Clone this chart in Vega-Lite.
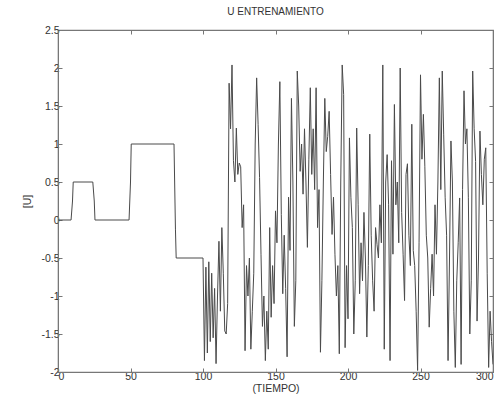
{
  "$schema": "https://vega.github.io/schema/vega-lite/v6.json",
  "width": 435,
  "height": 342,
  "autosize": {"type": "none"},
  "padding": {"left": 58, "top": 30, "right": 10, "bottom": 42},
  "background": "white",
  "title": {"text": "U ENTRENAMIENTO", "fontSize": 10, "font": "Liberation Sans", "fontWeight": "normal", "color": "#333", "offset": 8},
  "config": {
    "view": {"stroke": "#777", "strokeWidth": 1.2},
    "axis": {"grid": false, "labelFont": "Liberation Sans", "titleFont": "Liberation Sans", "labelFontSize": 10.5, "titleFontSize": 10.5, "titleFontWeight": "normal", "labelColor": "#333", "titleColor": "#333", "domainColor": "#777", "tickColor": "#777", "tickSize": -4}
  },
  "data": {"values": [
    {"t":0,"u":0},{"t":9,"u":0},{"t":10,"u":0.25},{"t":10.5,"u":0.5},{"t":24,"u":0.5},{"t":25,"u":0.25},{"t":25.5,"u":0},{"t":49,"u":0},{"t":50,"u":0.5},{"t":50.5,"u":1},{"t":80,"u":1},{"t":81,"u":-0.12},{"t":81.5,"u":-0.5},{"t":100,"u":-0.5},
    {"t":101,"u":-1.85},{"t":102,"u":-0.62},{"t":103,"u":-1.75},{"t":104,"u":-0.55},{"t":105,"u":-1.6},{"t":106,"u":-0.7},{"t":107,"u":-1.55},{"t":108,"u":-0.9},{"t":109,"u":-1.89},{"t":110,"u":-1.0},
    {"t":111,"u":-0.28},{"t":112,"u":-1.2},{"t":113,"u":-0.1},{"t":114,"u":-0.7},{"t":115,"u":-1.46},{"t":116,"u":-1.5},{"t":117,"u":-1.1},{"t":118,"u":1.8},{"t":119,"u":1.2},{"t":120,"u":2.04},
    {"t":121,"u":0.78},{"t":122,"u":0.5},{"t":123,"u":1.21},{"t":124,"u":0.6},{"t":125,"u":0.75},{"t":126,"u":0.7},{"t":127,"u":-0.1},{"t":128,"u":0.2},{"t":129,"u":-1.72},{"t":130,"u":-0.6},
    {"t":131,"u":-1.0},{"t":132,"u":-0.5},{"t":133,"u":-1.7},{"t":134,"u":-1.2},{"t":135,"u":-0.7},{"t":136,"u":1.0},{"t":137,"u":1.87},{"t":138,"u":1.26},{"t":139,"u":0.56},{"t":140,"u":-0.45},
    {"t":141,"u":-1.4},{"t":142,"u":-1.0},{"t":143,"u":-1.85},{"t":144,"u":-1.2},{"t":145,"u":-1.7},{"t":146,"u":-0.1},{"t":147,"u":-1.28},{"t":148,"u":-0.6},{"t":149,"u":-1.1},{"t":150,"u":0.12},
    {"t":151,"u":-0.3},{"t":152,"u":1.0},{"t":153,"u":1.82},{"t":154,"u":0.07},{"t":155,"u":-0.97},{"t":156,"u":-0.2},{"t":157,"u":-0.9},{"t":158,"u":-1.8},{"t":159,"u":0.3},{"t":160,"u":-0.4},
    {"t":161,"u":1.6},{"t":162,"u":0.5},{"t":163,"u":-1.4},{"t":164,"u":-0.8},{"t":165,"u":1.96},{"t":166,"u":1.5},{"t":167,"u":0.64},{"t":168,"u":1.0},{"t":169,"u":0.34},{"t":170,"u":1.2},
    {"t":171,"u":0.5},{"t":172,"u":-0.36},{"t":173,"u":0.8},{"t":174,"u":1.74},{"t":175,"u":0.6},{"t":176,"u":1.2},{"t":177,"u":0.4},{"t":178,"u":1.74},{"t":179,"u":-0.1},{"t":180,"u":0.4},
    {"t":181,"u":-1.74},{"t":182,"u":-0.8},{"t":183,"u":0.5},{"t":184,"u":1.6},{"t":185,"u":0.9},{"t":186,"u":1.1},{"t":187,"u":1.43},{"t":188,"u":0.6},{"t":189,"u":-0.19},{"t":190,"u":0.3},
    {"t":191,"u":-0.45},{"t":192,"u":-1.0},{"t":193,"u":-0.6},{"t":194,"u":-1.76},{"t":195,"u":0.5},{"t":196,"u":2.04},{"t":197,"u":1.65},{"t":198,"u":-1.68},{"t":199,"u":-0.6},{"t":200,"u":-1.3},
    {"t":201,"u":1.08},{"t":202,"u":0.3},{"t":203,"u":-0.1},{"t":204,"u":-1.5},{"t":205,"u":-0.8},{"t":206,"u":1.21},{"t":207,"u":0.2},{"t":208,"u":-0.97},{"t":209,"u":-0.3},{"t":210,"u":-0.8},
    {"t":211,"u":0.1},{"t":212,"u":-0.5},{"t":213,"u":-1.54},{"t":214,"u":-0.6},{"t":215,"u":1.13},{"t":216,"u":-0.2},{"t":217,"u":-0.8},{"t":218,"u":-1.2},{"t":219,"u":-0.1},{"t":220,"u":-0.32},
    {"t":221,"u":-0.5},{"t":222,"u":0.2},{"t":223,"u":-0.3},{"t":224,"u":2.04},{"t":225,"u":-1.7},{"t":226,"u":0.5},{"t":227,"u":0.86},{"t":228,"u":0.2},{"t":229,"u":-1.85},{"t":230,"u":0.78},
    {"t":231,"u":-0.45},{"t":232,"u":1.52},{"t":233,"u":0.2},{"t":234,"u":0.5},{"t":235,"u":-0.3},{"t":236,"u":2.0},{"t":237,"u":0.1},{"t":238,"u":-0.45},{"t":239,"u":-1.06},{"t":240,"u":0.6},
    {"t":241,"u":0.74},{"t":242,"u":-0.2},{"t":243,"u":-0.6},{"t":244,"u":1.26},{"t":245,"u":-0.4},{"t":246,"u":-0.6},{"t":247,"u":-1.2},{"t":248,"u":-1.98},{"t":249,"u":-0.3},{"t":250,"u":1.91},
    {"t":251,"u":0.8},{"t":252,"u":1.39},{"t":253,"u":0.7},{"t":254,"u":-0.2},{"t":255,"u":-0.5},{"t":256,"u":-1.41},{"t":257,"u":-0.9},{"t":258,"u":-0.45},{"t":259,"u":-1.0},{"t":260,"u":0.2},
    {"t":261,"u":-0.45},{"t":262,"u":0.5},{"t":263,"u":1.87},{"t":264,"u":0.4},{"t":265,"u":1.96},{"t":266,"u":1.12},{"t":267,"u":0.3},{"t":268,"u":-0.2},{"t":269,"u":-1.85},{"t":270,"u":-0.5},
    {"t":271,"u":1.04},{"t":272,"u":0.5},{"t":273,"u":-1.2},{"t":274,"u":-1.94},{"t":275,"u":-0.8},{"t":276,"u":-0.3},{"t":277,"u":0.29},{"t":278,"u":-1.9},{"t":279,"u":0.4},{"t":280,"u":1.7},
    {"t":281,"u":1.0},{"t":282,"u":1.2},{"t":283,"u":0.3},{"t":284,"u":-1.5},{"t":285,"u":-0.8},{"t":286,"u":1.96},{"t":287,"u":1.2},{"t":288,"u":0.77},{"t":289,"u":-1.33},{"t":290,"u":-0.5},
    {"t":291,"u":1.17},{"t":292,"u":0.6},{"t":293,"u":0.2},{"t":294,"u":0.8},{"t":295,"u":0.95},{"t":296,"u":-0.7},{"t":297,"u":-1.94},{"t":298,"u":-1.2},{"t":299,"u":-1.6},{"t":300,"u":-1.9}
  ]},
  "layer": [
    {
      "mark": {"type": "line", "color": "#4a4a4a", "strokeWidth": 1, "clip": true},
      "encoding": {
        "x": {"field": "t", "type": "quantitative", "scale": {"domain": [0, 300], "nice": false, "zero": false},
              "axis": {"title": "(TIEMPO)", "values": [0, 50, 100, 150, 200, 250, 300], "labelExpr": "'' + datum.value", "labelPadding": 3, "titlePadding": 2}},
        "y": {"field": "u", "type": "quantitative", "scale": {"domain": [-2, 2.5], "nice": false, "zero": false},
              "axis": {"title": "[U]", "values": [-2, -1.5, -1, -0.5, 0, 0.5, 1, 1.5, 2, 2.5], "labelExpr": "'' + datum.value", "labelPadding": 3, "titlePadding": 8}}
      }
    },
    {
      "mark": {"type": "line", "opacity": 0},
      "encoding": {
        "x": {"field": "t", "type": "quantitative", "axis": {"orient": "top", "labels": false, "title": null, "values": [0, 50, 100, 150, 200, 250, 300]}},
        "y": {"field": "u", "type": "quantitative", "axis": {"orient": "right", "labels": false, "title": null, "values": [-2, -1.5, -1, -0.5, 0, 0.5, 1, 1.5, 2, 2.5]}}
      }
    }
  ],
  "resolve": {"axis": {"x": "independent", "y": "independent"}}
}
